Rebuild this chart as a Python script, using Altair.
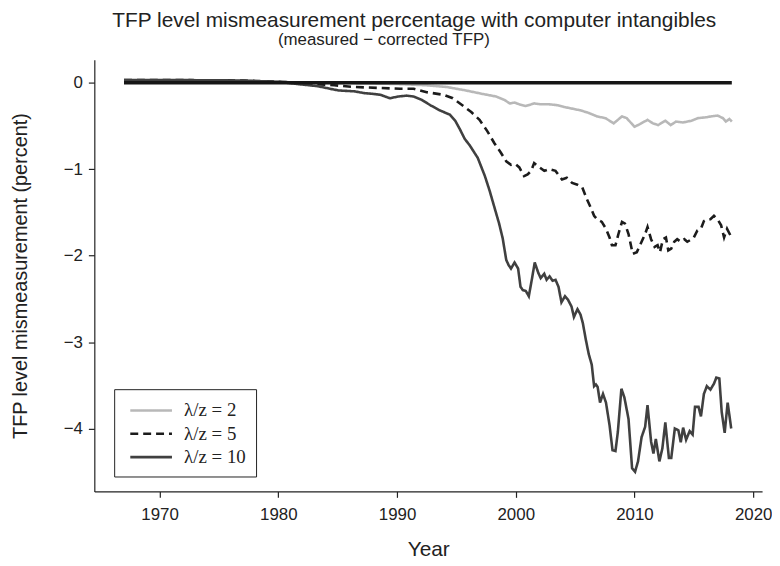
import altair as alt
import pandas as pd

# ---- data ----
series_names = ["λ/z = 2", "λ/z = 5", "λ/z = 10"]

years_2 = [1967, 1972, 1977, 1980, 1982, 1985, 1988, 1990, 1992.5, 1994.2, 1995.8, 1997.2,
           1998.35, 1999.05, 1999.5, 1999.9, 2000.3, 2000.85, 2001.55, 2002.1, 2002.8, 2003.5,
           2004.05, 2004.75, 2005.45, 2006.15, 2006.85, 2007.55, 2008.25, 2008.95, 2009.35,
           2010.0, 2010.45, 2011.1, 2011.55, 2012.0, 2012.6, 2013.05, 2013.5, 2014.1, 2014.8,
           2015.35, 2016.05, 2016.45, 2017.0, 2017.45, 2017.7, 2018.0, 2018.2]
vals_2 = [0.02, 0.02, 0.02, 0.01, 0.0, -0.005, -0.01, -0.015, -0.03, -0.05, -0.09, -0.13,
          -0.16, -0.20, -0.24, -0.23, -0.25, -0.27, -0.24, -0.25, -0.25, -0.26,
          -0.28, -0.30, -0.32, -0.35, -0.39, -0.41, -0.47, -0.39, -0.41,
          -0.51, -0.48, -0.43, -0.47, -0.49, -0.44, -0.49, -0.45, -0.46, -0.44,
          -0.41, -0.40, -0.39, -0.38, -0.41, -0.45, -0.42, -0.45]

years_5 = [1967, 1972, 1977, 1980, 1982, 1983.5, 1984.7, 1986.4, 1988.3, 1990.25, 1991.4, 1992.5,
           1993.9, 1994.7, 1995.5, 1996.25, 1996.95, 1997.6, 1998.2, 1998.75, 1999.2, 1999.6,
           1999.95, 2000.3, 2000.7, 2001.0, 2001.3, 2001.55, 2002.0, 2002.4, 2002.8, 2003.35,
           2003.9, 2004.3, 2004.75, 2005.2, 2005.6, 2006.0, 2006.3, 2006.6, 2006.85, 2007.25,
           2007.6, 2007.9, 2008.1, 2008.4, 2008.65, 2008.95, 2009.2, 2009.5, 2009.85, 2010.2,
           2010.6, 2010.9, 2011.1, 2011.4, 2011.7, 2011.95, 2012.15, 2012.4, 2012.65, 2012.85,
           2013.1, 2013.35, 2013.6, 2013.9, 2014.2, 2014.45, 2014.7, 2015.0, 2015.3, 2015.6,
           2015.85, 2016.1, 2016.4, 2016.7, 2017.0, 2017.3, 2017.55, 2017.8, 2018.1]
vals_5 = [0.03, 0.03, 0.025, 0.01, 0.0, -0.02, -0.03, -0.05, -0.06, -0.07, -0.07, -0.11,
          -0.14, -0.18, -0.26, -0.34, -0.43, -0.56, -0.70, -0.81, -0.91, -0.95,
          -0.94, -0.98, -1.08, -1.06, -1.02, -0.93, -0.98, -1.02, -1.00, -1.02,
          -1.12, -1.10, -1.16, -1.18, -1.21, -1.35, -1.44, -1.54, -1.58, -1.61,
          -1.69, -1.79, -1.88, -1.88, -1.75, -1.61, -1.63, -1.75, -1.98, -1.96,
          -1.84, -1.75, -1.67, -1.81, -1.90, -1.88, -1.96, -1.81, -1.79, -1.94,
          -1.92, -1.84, -1.81, -1.84, -1.81, -1.84, -1.82, -1.79, -1.71, -1.69,
          -1.60, -1.58, -1.58, -1.54, -1.58, -1.65, -1.79, -1.69, -1.77]

years_10 = [1967, 1972, 1977, 1980, 1981.9, 1983.3, 1984.7, 1985.1, 1986.4, 1987.2, 1988.0, 1988.6,
            1989.4, 1990.1, 1990.8, 1991.4, 1992.1, 1992.8, 1993.6, 1994.45, 1994.9, 1995.3,
            1995.7, 1996.1, 1996.8, 1997.4, 1997.8, 1998.2, 1998.6, 1998.9, 1999.2, 1999.4,
            1999.6, 1999.9, 2000.2, 2000.4, 2000.6, 2000.85, 2001.1, 2001.35, 2001.6, 2001.9,
            2002.1, 2002.4, 2002.6, 2002.85, 2003.1, 2003.35, 2003.6, 2003.85, 2004.15, 2004.4,
            2004.7, 2004.9, 2005.2, 2005.45, 2005.65, 2005.9, 2006.15, 2006.4, 2006.6, 2006.75,
            2006.9, 2007.1, 2007.35, 2007.6, 2007.9, 2008.15, 2008.4, 2008.6, 2008.9, 2009.15,
            2009.5, 2009.8, 2010.05, 2010.3, 2010.6, 2010.9, 2011.1, 2011.4, 2011.6, 2011.8,
            2012.1, 2012.35, 2012.6, 2012.9, 2013.1, 2013.4, 2013.7, 2013.9, 2014.1, 2014.35,
            2014.65, 2014.9, 2015.1, 2015.4, 2015.6, 2015.85, 2016.1, 2016.4, 2016.7, 2016.9,
            2017.15, 2017.35, 2017.6, 2017.85, 2018.15]
vals_10 = [0.03, 0.03, 0.025, 0.01, -0.02, -0.04, -0.08, -0.09, -0.10, -0.12, -0.13, -0.14,
           -0.18, -0.16, -0.15, -0.16, -0.20, -0.26, -0.32, -0.37, -0.44, -0.54,
           -0.65, -0.72, -0.87, -1.08, -1.25, -1.44, -1.63, -1.80, -2.05, -2.11,
           -2.15, -2.08, -2.15, -2.36, -2.40, -2.41, -2.47, -2.28, -2.08, -2.20,
           -2.26, -2.21, -2.28, -2.24, -2.29, -2.28, -2.36, -2.54, -2.47, -2.51,
           -2.59, -2.71, -2.62, -2.68, -2.78, -2.97, -3.14, -3.26, -3.51, -3.49,
           -3.52, -3.70, -3.60, -3.70, -3.96, -4.25, -4.26, -4.04, -3.54, -3.64,
           -3.89, -4.46, -4.50, -4.38, -4.10, -3.98, -3.73, -4.15, -4.29, -4.12,
           -4.38, -4.23, -3.93, -4.34, -4.34, -4.00, -4.02, -4.16, -3.99, -4.13,
           -4.03, -4.07, -3.75, -3.75, -3.86, -3.60, -3.51, -3.55, -3.48, -3.41,
           -3.42, -3.81, -4.05, -3.70, -4.00]

zero_years = [1967, 2018.2]
zero_vals = [0, 0]

x_ticks = [1970, 1980, 1990, 2000, 2010, 2020]
y_ticks = [-4, -3, -2, -1, 0]

title_line1 = "TFP level mismeasurement percentage with computer intangibles"
title_line2 = "(measured − corrected TFP)"

# ---- build table ----
rows = []
for name, ys, vs in [(series_names[0], years_2, vals_2),
                     (series_names[1], years_5, vals_5),
                     (series_names[2], years_10, vals_10)]:
    for y, v in zip(ys, vs):
        rows.append({"year": y, "value": v, "series": name})
df = pd.DataFrame(rows)
zero_df = pd.DataFrame({"year": zero_years, "value": zero_vals})

FONT = "Liberation Sans"
TXT = "#222222"

xscale = alt.Scale(domain=[1964.5, 2020.75], nice=False, zero=False)
yscale = alt.Scale(domain=[-4.727, 0.265], nice=False, zero=False)

xaxis = alt.Axis(values=x_ticks, format="d", title="Year", grid=False,
                 tickSize=6, labelPadding=9, titlePadding=17)
yaxis = alt.Axis(values=y_ticks, format="d", title="TFP level mismeasurement (percent)",
                 grid=False, tickSize=6, labelPadding=6, titlePadding=33,
                 titleFontSize=20)

lines = alt.Chart(df).mark_line(strokeWidth=2.6).encode(
    x=alt.X("year:Q", scale=xscale, axis=xaxis),
    y=alt.Y("value:Q", scale=yscale, axis=yaxis),
    color=alt.Color("series:N",
                    scale=alt.Scale(domain=series_names, range=["#b8b8b8", "#1c1c1c", "#404040"]),
                    legend=alt.Legend(title=None, orient="none", legendX=20, legendY=332,
                                      symbolType="M-0.5,0H3.5", symbolSize=441,
                                      symbolStrokeWidth=2.6,
                                      labelFont="Liberation Serif", labelFontSize=19,
                                      labelColor=TXT, labelOffset=37, rowPadding=1.5,
                                      strokeColor="#222222", padding=9.5, fillColor="white")),
    strokeDash=alt.StrokeDash("series:N",
                              scale=alt.Scale(domain=series_names, range=[[1, 0], [8, 5], [1, 0]]),
                              legend=None),
    order=alt.Order("year:Q"),
)

zero = alt.Chart(zero_df).mark_line(strokeWidth=3.5, color="#161616").encode(
    x=alt.X("year:Q", scale=xscale),
    y=alt.Y("value:Q", scale=yscale),
)

chart = alt.layer(lines, zero).properties(
    width=673, height=435,
    autosize=alt.AutoSizeParams(type="none"),
    padding={"left": 87, "top": 50, "right": 10, "bottom": 70},
    title=alt.TitleParams(
        text=title_line1,
        subtitle=title_line2 + "\u00a0" * 13 + "\u200b",
        font=FONT, fontSize=21, fontWeight="normal", color=TXT,
        subtitleFont=FONT, subtitleFontSize=17, subtitleColor=TXT,
        subtitlePadding=1, offset=12, anchor="middle", dx=-14,
    ),
).configure_view(stroke=None).configure_axis(
    labelFont=FONT, titleFont=FONT, labelFontSize=17, titleFontSize=21,
    titleFontWeight="normal", labelColor=TXT, titleColor=TXT,
    domainColor="#222222", tickColor="#222222", domainWidth=1.2, tickWidth=1.2,
)

chart.save("out.html", embed_options={"renderer": "svg", "actions": False})
